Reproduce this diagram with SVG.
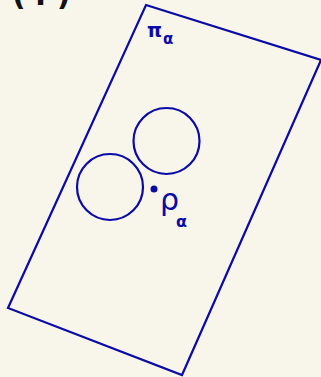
<svg xmlns="http://www.w3.org/2000/svg" width="321" height="377" viewBox="0 0 321 377">
<style>
.ln{fill:none;stroke:#0a0aa8;stroke-width:2.2;stroke-linejoin:miter}
.bl{fill:#0a0aa8;font-family:"DejaVu Sans",sans-serif}
.lab{fill:#111;font-family:"DejaVu Sans",sans-serif;font-size:30px;font-weight:bold;letter-spacing:9px}
</style>
<rect width="321" height="377" fill="#f8f6eb"/>
<g id="label"><text class="lab" x="12" y="5">(f)</text></g>
<g id="plane">
<polygon class="ln" points="146,5 321,60 182,375 8,308"/>
<text class="bl" x="147" y="37" font-size="19" font-weight="bold">π</text>
<text class="bl" x="163" y="44" font-size="15" font-weight="bold">α</text>
</g>
<g id="sphere1"><circle class="ln" cx="166.5" cy="141" r="33"/></g>
<g id="sphere2"><circle class="ln" cx="110" cy="187" r="33"/></g>
<g id="point">
<circle cx="154" cy="189" r="3.5" fill="#0a0aa8"/>
<text class="bl" x="160" y="210" font-size="30">ρ</text>
<text class="bl" x="176" y="227" font-size="16" font-weight="bold">α</text>
</g>
</svg>
